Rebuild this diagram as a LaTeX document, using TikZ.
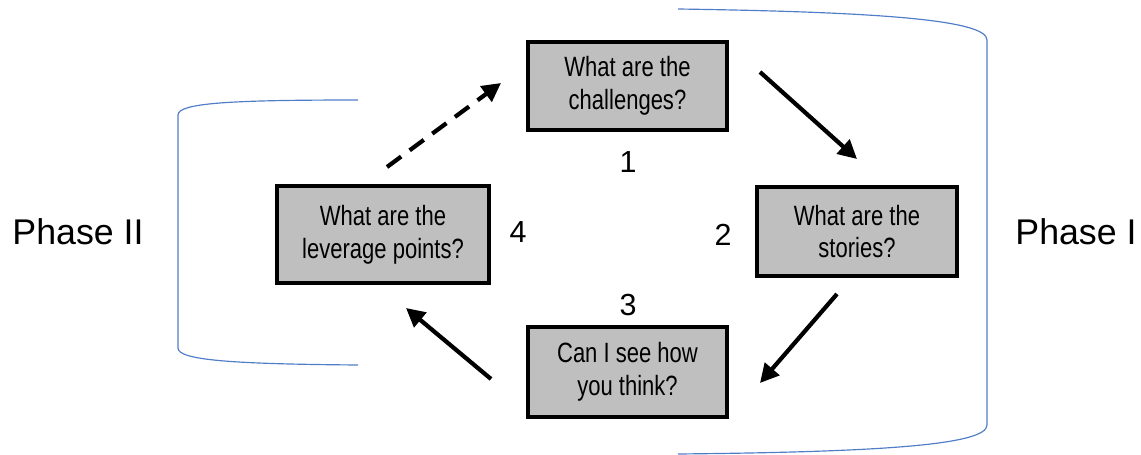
\documentclass[tikz,border=0pt]{standalone}
\usepackage{fontspec}
\setmainfont{Liberation Sans}
\newfontfamily\narrowfont[FakeStretch=0.79]{Liberation Sans}
\usetikzlibrary{arrows.meta}
\definecolor{boxgray}{RGB}{191,191,191}
\definecolor{phaseblue}{RGB}{80,125,200}
\begin{document}
\begin{tikzpicture}[x=0.03cm, y=-0.03cm]
            \useasboundingbox (0,0) rectangle (1141,455);
            \begin{scope}[
                    every node/.style={draw, line width=3pt, fill=boxgray, align=center, inner sep=0pt,
                        font=\narrowfont\fontsize{23.8}{28}\selectfont},
                ]

                \node[minimum width=199*0.8536pt, minimum height=88*0.8536pt] (q1) at (627.5,86) {What are the\\challenges?};
                \node[minimum width=200*0.8536pt, minimum height=89*0.8536pt] (q2) at (857,231.5) {What are the\\stories?};
                \node[minimum width=199*0.8536pt, minimum height=90*0.8536pt] (q3) at (627.5,372) {Can I see how\\you think?};
                \node[minimum width=212*0.8536pt, minimum height=97*0.8536pt] (q4) at (383,234.5) {What are the\\leverage points?};
            \end{scope}

            \begin{scope}[every node/.style={font=\fontsize{26}{30}\selectfont}]
                \node (n1) at (628,162) {1};
                \node (n2) at (723,235) {2};
                \node (n3) at (628,305) {3};
                \node (n4) at (518,232) {4};
            \end{scope}

            \node[font=\fontsize{30.5}{36}\selectfont] (p2) at (78,232) {Phase II};
            \node[font=\fontsize{30.5}{36}\selectfont] (p1) at (1076,232) {Phase I};

            \coordinate (s1) at (760,72);
            \coordinate (e1) at (857,159);
            \coordinate (s2) at (837,294);
            \coordinate (e2) at (760,383);
            \coordinate (s3) at (491,379);
            \coordinate (e3) at (406,308);
            \coordinate (s4) at (387,167);
            \coordinate (e4) at (501,83);

            \begin{scope}[every edge/.style={draw, line width=3.6pt, -{Triangle[length=16pt, width=16pt]}}]
                \draw (s1) edge (e1);
                \draw (s2) edge (e2);
                \draw (s3) edge (e3);
                \draw (s4) edge[dash pattern=on 15pt off 9pt] (e4);
            \end{scope}

            % phase brackets
            \draw[phaseblue, line width=1pt] (678,9) .. controls (880,12) and (987,20) .. (987,40)
                -- (987,425) .. controls (987,445) and (880,452) .. (678,454);
            \draw[phaseblue, line width=1pt] (358,100) .. controls (230,100) and (178,103) .. (178,115)
                -- (178,348) .. controls (178,360) and (230,364) .. (358,365);
        \end{tikzpicture}
\end{document}
